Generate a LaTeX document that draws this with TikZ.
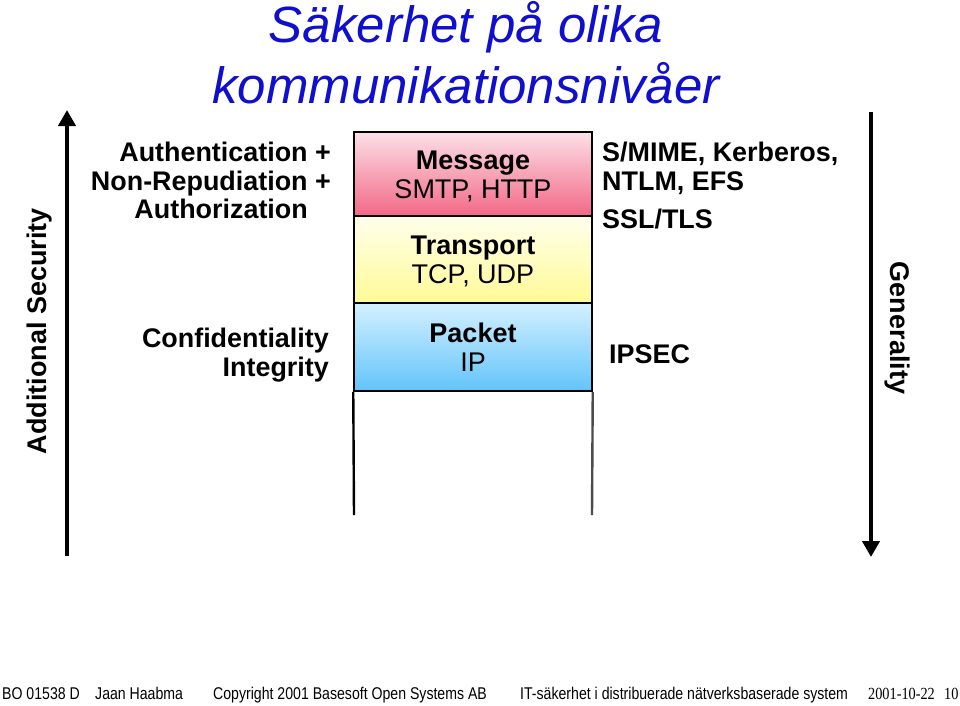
\documentclass[tikz,border=0pt]{standalone}
\usepackage{fontspec}
\setmainfont{Liberation Sans}
\newfontfamily\footsans[FakeStretch=0.83]{Liberation Sans}
\newfontfamily\footserif[FakeStretch=0.84]{Liberation Serif}
\usetikzlibrary{arrows.meta}
\definecolor{titleblue}{RGB}{15,15,205}
\definecolor{msgtop}{RGB}{252,224,232}
\definecolor{msgbot}{RGB}{242,104,134}
\definecolor{trtop}{RGB}{255,255,236}
\definecolor{trbot}{RGB}{255,250,150}
\definecolor{pktop}{RGB}{212,240,255}
\definecolor{pkbot}{RGB}{98,196,250}
\newcommand{\laytext}[2]{\raisebox{-4pt}[\height][\depth]{\begin{tabular}{@{}c@{}}\textbf{#1}\\#2\end{tabular}}}
\tikzset{
  title/.style={font=\fontsize{51}{61}\selectfont\itshape, text=titleblue, inner sep=0pt},
  lbl/.style={font=\fontsize{26.9}{29}\selectfont\bfseries, inner sep=0pt},
  layer/.style={draw=black, line width=1.5pt, minimum width=238pt, inner sep=0pt,
     align=center, font=\fontsize{27}{29}\selectfont},
  axisarrow/.style={line width=4pt, -{Triangle[width=17pt,length=16pt]}},
  openline/.style={line width=2.4pt},
  foot/.style={font=\fontsize{17}{20}\selectfont\footsans, inner sep=0pt, anchor=base west},
  foots/.style={font=\fontsize{17}{20}\selectfont\footserif, inner sep=0pt, anchor=base west}
}
\begin{document}
\begin{tikzpicture}[x=1pt,y=-1pt]
\useasboundingbox (0,0) rectangle (960,705);
\fill[white] (0,0) rectangle (960,705);
% title
\node[title, anchor=base] (t1) at (466,42) {Säkerhet på olika};
\node[title, anchor=base] (t2) at (466,103) {kommunikationsnivåer};
% layers
\node[layer, minimum height=84pt, top color=msgtop, bottom color=msgbot] (msg) at (473,174)
  {\laytext{Message}{SMTP, HTTP}};
\node[layer, minimum height=87pt, top color=trtop, bottom color=trbot] (tr) at (473,259.5)
  {\laytext{Transport}{TCP, UDP}};
\node[layer, minimum height=88pt, top color=pktop, bottom color=pkbot] (pk) at (473,347)
  {\laytext{Packet}{IP}};
\coordinate (lbot) at (354,515);
\coordinate (rbot) at (592,515);
\draw[openline, black] (pk.south west) -- (lbot);
\draw[openline, black!70] (pk.south east) -- (rbot);
% left labels
\node[lbl, anchor=base east] (a1) at (331,161) {Authentication +};
\node[lbl, anchor=base east] (a2) at (331,190) {Non-Repudiation +};
\node[lbl, anchor=base east] (a3) at (308,218) {Authorization};
\node[lbl, anchor=base east] (c1) at (329,347) {Confidentiality};
\node[lbl, anchor=base east] (c2) at (329,376) {Integrity};
% right labels
\node[lbl, anchor=base west] (r1) at (602,161) {S/MIME, Kerberos,};
\node[lbl, anchor=base west] (r2) at (602,190) {NTLM, EFS};
\node[lbl, anchor=base west] (r3) at (602,228) {SSL/TLS};
\node[lbl, anchor=base west] (r4) at (609,363) {IPSEC};
% axes
\coordinate (lb) at (67,556);
\coordinate (lt) at (67,110);
\draw[axisarrow] (lb) -- (lt);
\coordinate (rt) at (871,112);
\coordinate (rb) at (871,557);
\draw[axisarrow] (rt) -- (rb);
\node[lbl, font=\fontsize{27}{30}\selectfont\bfseries, rotate=90] (addsec) at (40,331) {Additional Security};
\node[lbl, font=\fontsize{27}{30}\selectfont\bfseries, rotate=-90] (gen) at (897,328) {Generality};
% footer
\node[foot] (f1) at (2,699) {BO 01538 D};
\node[foot] (f2) at (95,699) {Jaan Haabma};
\node[foot] (f3) at (213,699) {Copyright 2001 Basesoft Open Systems AB};
\node[foot] (f4) at (520,699) {IT-säkerhet i distribuerade nätverksbaserade system};
\node[foots] (f5) at (868,699) {2001-10-22};
\node[foots] (f6) at (944,699) {10};
\end{tikzpicture}
\end{document}
